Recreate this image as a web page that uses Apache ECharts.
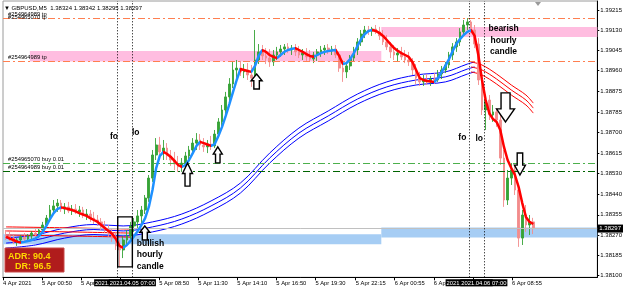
<!DOCTYPE html>
<html><head><meta charset="utf-8">
<script src="https://cdn.jsdelivr.net/npm/echarts@6/dist/echarts.min.js"></script>
<style>html,body{margin:0;padding:0;background:#fff}#c{width:625px;height:289px}</style>
</head><body><div id="c"></div>
<script>
// ---------- DATA ----------
const barStart = '4 22:15';   // day-of-April and time of the first 15-minute bar
const barMinutes = 15;
const opens = [
1.38270,1.38266,1.38257,1.38241,1.38249,1.38262,1.38253,1.38266,1.38278,1.38270,
1.38291,1.38312,1.38341,1.38375,1.38392,1.38404,1.38379,1.38388,1.38371,1.38379,
1.38367,1.38375,1.38354,1.38358,1.38341,1.38333,1.38325,1.38304,1.38291,1.38278,
1.38257,1.38224,1.38207,1.38249,1.38266,1.38308,1.38325,1.38350,1.38375,1.38425,
1.38509,1.38606,1.38648,1.38619,1.38635,1.38602,1.38585,1.38568,1.38556,1.38572,
1.38602,1.38627,1.38656,1.38669,1.38648,1.38640,1.38652,1.38644,1.38694,1.38745,
1.38795,1.38850,1.38904,1.38963,1.38971,1.38955,1.38963,1.38942,1.38929,1.39005,
1.39039,1.39022,1.39013,1.38997,1.39026,1.39039,1.39051,1.39060,1.39047,1.39055,
1.39039,1.39026,1.39034,1.39018,1.39009,1.39026,1.39039,1.39047,1.39055,1.39043,
1.39051,1.39026,1.38971,1.38955,1.38980,1.39013,1.39047,1.39081,1.39114,1.39131,
1.39127,1.39135,1.39123,1.39106,1.39081,1.39060,1.39039,1.39026,1.39034,1.39018,
1.39005,1.38997,1.38963,1.38929,1.38913,1.38921,1.38913,1.38925,1.38921,1.38946,
1.38963,1.38984,1.39026,1.39060,1.39081,1.39123,1.39152,1.39165,1.39131,1.39072,
1.38921,1.38795,1.38837,1.38774,1.38787,1.38753,1.38593,1.38417,1.38509,1.38543,
1.38459,1.38257,1.38354,1.38312,1.38325];
const closes = [
1.38266,1.38257,1.38241,1.38249,1.38262,1.38253,1.38266,1.38278,1.38270,1.38291,
1.38312,1.38341,1.38375,1.38392,1.38404,1.38379,1.38388,1.38371,1.38379,1.38367,
1.38375,1.38354,1.38358,1.38341,1.38333,1.38325,1.38304,1.38291,1.38278,1.38257,
1.38224,1.38207,1.38249,1.38266,1.38308,1.38325,1.38350,1.38375,1.38425,1.38509,
1.38606,1.38648,1.38619,1.38635,1.38602,1.38585,1.38568,1.38556,1.38572,1.38602,
1.38627,1.38656,1.38669,1.38648,1.38640,1.38652,1.38644,1.38694,1.38745,1.38795,
1.38850,1.38904,1.38963,1.38971,1.38955,1.38963,1.38942,1.38929,1.39005,1.39039,
1.39022,1.39013,1.38997,1.39026,1.39039,1.39051,1.39060,1.39047,1.39055,1.39039,
1.39026,1.39034,1.39018,1.39009,1.39026,1.39039,1.39047,1.39055,1.39043,1.39051,
1.39026,1.38971,1.38955,1.38980,1.39013,1.39047,1.39081,1.39114,1.39131,1.39127,
1.39135,1.39123,1.39106,1.39081,1.39060,1.39039,1.39026,1.39034,1.39018,1.39005,
1.38997,1.38963,1.38929,1.38913,1.38921,1.38913,1.38925,1.38921,1.38946,1.38963,
1.38984,1.39026,1.39060,1.39081,1.39123,1.39152,1.39165,1.39131,1.39072,1.38921,
1.38795,1.38837,1.38774,1.38787,1.38753,1.38593,1.38417,1.38509,1.38543,1.38459,
1.38257,1.38354,1.38312,1.38325,1.38297];
const highs = [
1.38291,1.38283,1.38270,1.38257,1.38270,1.38278,1.38274,1.38287,1.38295,1.38299,
1.38325,1.38354,1.38396,1.38417,1.38421,1.38417,1.38404,1.38409,1.38396,1.38400,
1.38392,1.38388,1.38379,1.38375,1.38367,1.38354,1.38341,1.38329,1.38312,1.38299,
1.38283,1.38249,1.38266,1.38291,1.38325,1.38341,1.38375,1.38392,1.38438,1.38522,
1.38627,1.38677,1.38682,1.38669,1.38656,1.38627,1.38619,1.38602,1.38593,1.38619,
1.38644,1.38677,1.38698,1.38694,1.38677,1.38669,1.38686,1.38711,1.38761,1.38816,
1.38871,1.38929,1.38997,1.39005,1.39001,1.38988,1.38992,1.38984,1.39131,1.39072,
1.39068,1.39055,1.39051,1.39047,1.39060,1.39068,1.39072,1.39076,1.39068,1.39072,
1.39064,1.39051,1.39055,1.39047,1.39039,1.39051,1.39064,1.39068,1.39072,1.39064,
1.39068,1.39039,1.39005,1.38997,1.39026,1.39060,1.39097,1.39131,1.39148,1.39148,
1.39144,1.39152,1.39144,1.39131,1.39110,1.39081,1.39068,1.39055,1.39060,1.39047,
1.39039,1.39013,1.38988,1.38955,1.38942,1.38946,1.38938,1.38950,1.38963,1.38980,
1.38997,1.39039,1.39076,1.39097,1.39139,1.39173,1.39181,1.39173,1.39152,1.39097,
1.38942,1.38858,1.38858,1.38816,1.38803,1.38774,1.38627,1.38543,1.38572,1.38564,
1.38480,1.38375,1.38396,1.38354,1.38342];
const lows = [
1.38249,1.38245,1.38232,1.38224,1.38236,1.38245,1.38241,1.38253,1.38262,1.38257,
1.38278,1.38299,1.38325,1.38358,1.38367,1.38367,1.38358,1.38362,1.38354,1.38358,
1.38346,1.38341,1.38333,1.38325,1.38316,1.38308,1.38291,1.38278,1.38262,1.38241,
1.38207,1.38136,1.38173,1.38224,1.38249,1.38283,1.38299,1.38316,1.38358,1.38409,
1.38493,1.38585,1.38593,1.38585,1.38585,1.38560,1.38543,1.38535,1.38535,1.38551,
1.38577,1.38606,1.38627,1.38627,1.38619,1.38614,1.38627,1.38635,1.38677,1.38728,
1.38774,1.38829,1.38887,1.38929,1.38938,1.38929,1.38921,1.38892,1.38904,1.38988,
1.39005,1.38988,1.38976,1.38980,1.39005,1.39018,1.39026,1.39034,1.39026,1.39022,
1.39013,1.39005,1.39001,1.38997,1.38992,1.39001,1.39018,1.39026,1.39030,1.39026,
1.39013,1.38955,1.38913,1.38929,1.38963,1.38997,1.39026,1.39064,1.39097,1.39110,
1.39106,1.39114,1.39089,1.39068,1.39047,1.39013,1.39005,1.38997,1.39005,1.38992,
1.38980,1.38942,1.38904,1.38896,1.38896,1.38900,1.38896,1.38904,1.38913,1.38925,
1.38950,1.38971,1.39005,1.39039,1.39064,1.39106,1.39131,1.39118,1.39055,1.38900,
1.38774,1.38711,1.38753,1.38745,1.38724,1.38564,1.38388,1.38396,1.38480,1.38438,
1.38220,1.38228,1.38283,1.38270,1.38274];
// fast moving average (blue while rising, red while falling)
const ma = [
1.38263,1.38255,1.38249,1.38242,1.38238,1.38241,1.38245,1.38249,1.38255,1.38266,
1.38283,1.38308,1.38337,1.38362,1.38379,1.38386,1.38383,1.38379,1.38375,1.38369,
1.38362,1.38356,1.38350,1.38341,1.38333,1.38325,1.38312,1.38299,1.38287,1.38274,
1.38253,1.38224,1.38216,1.38228,1.38245,1.38266,1.38287,1.38312,1.38341,1.38388,
1.38459,1.38551,1.38602,1.38619,1.38610,1.38598,1.38581,1.38564,1.38556,1.38564,
1.38585,1.38614,1.38644,1.38661,1.38656,1.38650,1.38644,1.38652,1.38686,1.38724,
1.38770,1.38820,1.38871,1.38921,1.38967,1.38963,1.38959,1.38955,1.38980,1.39022,
1.39047,1.39039,1.39026,1.39018,1.39013,1.39026,1.39039,1.39047,1.39051,1.39055,
1.39047,1.39039,1.39030,1.39022,1.39018,1.39026,1.39034,1.39039,1.39043,1.39045,
1.39047,1.39022,1.38988,1.38992,1.39009,1.39034,1.39064,1.39093,1.39114,1.39127,
1.39131,1.39127,1.39118,1.39106,1.39089,1.39072,1.39055,1.39043,1.39034,1.39026,
1.39018,1.38997,1.38963,1.38929,1.38921,1.38917,1.38915,1.38913,1.38929,1.38955,
1.38980,1.39009,1.39043,1.39072,1.39093,1.39110,1.39123,1.39131,1.39106,1.39026,
1.38921,1.38837,1.38782,1.38757,1.38745,1.38711,1.38640,1.38585,1.38551,1.38522,
1.38472,1.38404,1.38346,1.38325,1.38316];
// slow envelope bands, sampled at bar indices
const blueBandBars = [0,8,16,24,32,40,48,56,64,72,80,88,96,104,112,120,126,128];
const blueUpper = [1.38257,1.38270,1.38299,1.38314,1.38308,1.38325,1.38358,1.38413,1.38488,1.38614,1.38719,1.38791,1.38862,1.38913,1.38942,1.38955,1.38988,1.38997];
const blueMid   = [1.38236,1.38249,1.38278,1.38293,1.38287,1.38304,1.38337,1.38392,1.38467,1.38593,1.38698,1.38770,1.38841,1.38892,1.38921,1.38934,1.38967,1.38976];
const blueLower = [1.38215,1.38228,1.38257,1.38272,1.38266,1.38283,1.38316,1.38371,1.38446,1.38572,1.38677,1.38749,1.38820,1.38871,1.38900,1.38913,1.38946,1.38955];
const redBandBars = [127,130,134,138,142,144];
const redUpper = [1.38997,1.38984,1.38946,1.38900,1.38858,1.38824];
const redMid   = [1.38976,1.38963,1.38925,1.38879,1.38837,1.38803];
const redLower = [1.38955,1.38942,1.38904,1.38858,1.38816,1.38782];
const redLeftBars = [0,17,34];
const redLeftUpper = [1.38304,1.38300,1.38295];
const redLeftMid   = [1.38287,1.38283,1.38278];
const redLeftLower = [1.38270,1.38266,1.38261];
// axis ticks
const xTickTimes  = ['4 22:10','5 00:50','5 03:30','5 06:10','5 08:50','5 11:30','5 14:10','5 16:50','5 19:30','5 22:15','6 00:55','6 03:35','6 06:15','6 08:55'];
const xTickLabels = ['4 Apr 2021','5 Apr 00:50','5 Apr 03:30','5 Apr 06:10','5 Apr 08:50','5 Apr 11:30','5 Apr 14:10','5 Apr 16:50','5 Apr 19:30','5 Apr 22:15','6 Apr 00:55','6 Apr 03:35','6 Apr 06:15','6 Apr 08:55'];
const yTicks = [1.38100,1.38185,1.38270,1.38355,1.38440,1.38530,1.38615,1.38700,1.38785,1.38875,1.38960,1.39045,1.39130,1.39215];
// horizontal order / price lines
const priceLines = [
  {name:'#254965070 tp', value:1.39181, kind:'tp2'},
  {name:'#254964989 tp', value:1.39181, kind:'tp'},
  {name:'#254964989 tp', value:1.38999, kind:'tp'},
  {name:'#254965070 buy 0.01', value:1.38572, kind:'buy1'},
  {name:'#254964989 buy 0.01', value:1.38537, kind:'buy2'}
];
const bidPrice = 1.38297;
// vertical session lines
const vLineTimes  = ['5 06:00','5 07:00','6 06:00','6 07:00'];
const vLineLabels = ['2021.04.05 06:00','2021.04.05 07:00','2021.04.06 06:00','2021.04.06 07:00'];
// zones: [from, to, top, bottom]  (null = chart edge)
const pinkZones = [['6 00:00', null, 1.39144, 1.39102], ['5 00:00','6 00:00', 1.39043, 1.38999]];
const blueZones = [[null,'6 00:00', 1.38273, 1.38231], ['6 00:00', null, 1.38301, 1.38259]];
// annotations (time, price)
const upArrows   = [['5 07:51',1.38308,10,14],['5 10:46',1.38572,10,23],['5 12:50',1.38640,9,16],['5 15:29',1.38946,11,15]];
const downArrows = [['6 08:29',1.38745,18,29],['6 09:28',1.38522,11,22]];
const notes = [
  ['5 05:45',1.38682,'fo','center'],['5 07:14',1.38700,'lo','center'],
  ['6 05:32',1.38677,'fo','center'],['6 06:41',1.38673,'lo','center'],
  ['6 08:21',1.39087,'bearish\nhourly\ncandle','center'],
  ['5 07:18',1.38186,'bullish\nhourly\ncandle','left']
];
const hourlyBox = ['5 06:00','5 07:00',1.38346,1.38136];

// ---------- HELPERS ----------
function toMin(s){ const [d,hm]=s.split(' '); const [h,m]=hm.split(':').map(Number); return (Number(d)-4)*1440+h*60+m; }
const t0 = toMin(barStart);
const barTime = k => t0 + barMinutes*k + barMinutes/2;
const xMin = toMin('4 22:10'), xMax = 3765;
const yMin = 1.380923, yMax = 1.392528;
const xTickValues = xTickTimes.map(toMin);

const candleData = closes.map((c,k)=>[barTime(k), opens[k], c, lows[k], highs[k]]);
const maData = ma.map((v,k)=>[barTime(k), v]);
const BLUE='#1e90ff', RED='#ff0000';
const pieces = [];
for (let k=0;k<ma.length-1;k++){
  const col = ma[k+1] >= ma[k] ? BLUE : RED;
  const a = barTime(k), b = barTime(k+1);
  if (pieces.length && pieces[pieces.length-1].color===col) pieces[pieces.length-1].lte = b;
  else pieces.push(pieces.length ? {gt:a, lte:b, color:col} : {gte:xMin, lte:b, color:col});
}
pieces[pieces.length-1].lte = xMax;

function bandSeries(bars, vals, color){
  return {type:'line', data: bars.map((k,i)=>[barTime(k), vals[i]]), smooth:0.35, symbol:'none',
    lineStyle:{color, width:1}, z:2, silent:true};
}
const lineColors = {tp:'#ff7f50', tp2:'#ff7f50', buy1:'#4cb04c', buy2:'#006400'};
const hLines = priceLines.map(p=>[
  {coord:[xMin, p.value], name:p.name, lineStyle:{color:lineColors[p.kind], type:[7,3,2,3], width:1},
   label:{show:true, position:'insideStartTop', formatter:p.name, distance: p.kind==='tp2'?[5,-2]:[5,1], fontSize:5.8, color:'#000', fontFamily:'Liberation Sans'}},
  {coord:[xMax, p.value]}]);
hLines.push([
  {coord:[xMin, bidPrice], lineStyle:{color:'#c0c0c0', type:'solid', width:1},
   label:{show:true, position:'end', formatter:bidPrice.toFixed(5), backgroundColor:'#000', color:'#fff', padding:[1,2,1,2], fontSize:6, distance:0, fontFamily:'Liberation Sans'}},
  {coord:[xMax, bidPrice]}]);
const vLines = vLineTimes.map((t,i)=>[
  {coord:[toMin(t), yMin], lineStyle:{color:'#000', type:[1,2], width:1},
   label:{show:true, position:'start', formatter:vLineLabels[i], backgroundColor:'#000', color:'#fff', padding:[1,1,0,1], fontSize:5.8, distance:2, fontFamily:'Liberation Sans'}},
  {coord:[toMin(t), yMax]}]);
const zoneData = [];
pinkZones.forEach(z=>zoneData.push([{xAxis: z[0]?toMin(z[0]):xMin, yAxis:z[2], itemStyle:{color:'#ffbde0'}},{xAxis: z[1]?toMin(z[1]):xMax, yAxis:z[3]}]));
blueZones.forEach(z=>zoneData.push([{xAxis: z[0]?toMin(z[0]):xMin, yAxis:z[2], itemStyle:{color:'#a6cdf4'}},{xAxis: z[1]?toMin(z[1]):xMax, yAxis:z[3]}]));

const chart = echarts.init(document.getElementById('c'));
const option = {
  animation:false,
  backgroundColor:'#fff',
  textStyle:{fontFamily:'Liberation Sans'},
  grid:{left:1.3, top:1, right:25.7, bottom:11.7, show:true, borderColor:'#9a9a9a', borderWidth:1},
  xAxis:{type:'value', min:xMin, max:xMax,
    axisLine:{show:true, onZero:false, lineStyle:{color:'#000', width:1}},
    axisTick:{show:true, customValues:xTickValues, length:3, lineStyle:{color:'#000'}},
    axisLabel:{customValues:xTickValues, formatter:v=>xTickLabels[xTickValues.indexOf(v)], fontSize:5.8, color:'#000', align:'left', margin:3, fontFamily:'Liberation Sans'},
    splitLine:{show:false}},
  yAxis:{type:'value', position:'right', min:yMin, max:yMax,
    axisLine:{show:true, lineStyle:{color:'#000', width:1}},
    axisTick:{show:true, customValues:yTicks, length:2, lineStyle:{color:'#000'}},
    axisLabel:{customValues:yTicks, formatter:v=>v.toFixed(5), fontSize:6, color:'#000', margin:3, fontFamily:'Liberation Sans'},
    splitLine:{show:false}},
  visualMap:[{type:'piecewise', show:false, seriesIndex:12, dimension:0, pieces, outOfRange:{color:RED}}],
  series:[
    {type:'line', data:[], z:1, silent:true,
      markArea:{silent:true, data:zoneData}},
    bandSeries(blueBandBars, blueUpper, '#0000ff'),
    bandSeries(blueBandBars, blueMid, '#0000ff'),
    bandSeries(blueBandBars, blueLower, '#0000ff'),
    bandSeries(redBandBars, redUpper, '#ff0000'),
    bandSeries(redBandBars, redMid, '#ff0000'),
    bandSeries(redBandBars, redLower, '#ff0000'),
    bandSeries(redLeftBars, redLeftUpper, '#ff0000'),
    bandSeries(redLeftBars, redLeftMid, '#ff0000'),
    bandSeries(redLeftBars, redLeftLower, '#ff0000'),
    {type:'line', data:[], z:3, silent:true},
    {type:'candlestick', data:candleData, encode:{x:0, y:[1,2,3,4]}, barWidth:2.2, z:4, silent:true,
      itemStyle:{color:'#36a336', color0:'#f28c8c', borderColor:'#36a336', borderColor0:'#f28c8c', borderWidth:0.9},
      markLine:{silent:true, symbol:['none','none'], precision:5, data:hLines.concat(vLines)}},
    {type:'line', data:maData, symbol:'none', z:5, silent:true, lineStyle:{width:2.5}}
  ]
};
chart.setOption(option);

// ---------- ANNOTATIONS ----------
const P = (t,p)=>chart.convertToPixel({gridIndex:0},[toMin(t),p]);
function arrowPts(x,y,w,h,s){ const hh=h*0.45, sw=w*0.5;
  return [[x,y],[x+w/2,y+s*hh],[x+sw/2,y+s*hh],[x+sw/2,y+s*h],[x-sw/2,y+s*h],[x-sw/2,y+s*hh],[x-w/2,y+s*hh]]; }
const g = [];
upArrows.forEach(a=>{ const [x,y]=P(a[0],a[1]); g.push({type:'polygon', z:100, shape:{points:arrowPts(x,y,a[2],a[3],1)}, style:{fill:'#fff', stroke:'#000', lineWidth:1.4}}); });
downArrows.forEach(a=>{ const [x,y]=P(a[0],a[1]); g.push({type:'polygon', z:100, shape:{points:arrowPts(x,y,a[2],a[3],-1)}, style:{fill:'#fff', stroke:'#000', lineWidth:1.4}}); });
notes.forEach(n=>{ const [x,y]=P(n[0],n[1]); g.push({type:'text', z:101, x, y, style:{text:n[2], font:'bold 8.5px "Liberation Sans"', fill:'#000', align:n[3], verticalAlign:'middle', lineHeight:11.5}}); });
{ const [x1,y1]=P(hourlyBox[0],hourlyBox[2]); const [x2,y2]=P(hourlyBox[1],hourlyBox[3]);
  g.push({type:'rect', z:100, shape:{x:x1,y:y1,width:x2-x1,height:y2-y1}, style:{fill:'none', stroke:'#000', lineWidth:1.4}}); }
g.push({type:'text', z:101, x:4, y:8, style:{text:'\u25BC GBPUSD,M5  1.38324 1.38342 1.38295 1.38297', font:'6px "Liberation Sans"', fill:'#000', verticalAlign:'middle'}});
g.push({type:'polygon', z:101, shape:{points:[[535,2],[541,2],[538,6]]}, style:{fill:'#9a9a9a'}});
g.push({type:'rect', z:102, shape:{x:5,y:248,width:59,height:24}, style:{fill:'#b01c1c', stroke:'#c84848', lineWidth:1}});
g.push({type:'text', z:103, x:8, y:256.5, style:{text:'ADR: 90.4', font:'bold 9px "Liberation Sans"', fill:'#ffd700', verticalAlign:'middle'}});
g.push({type:'text', z:103, x:15, y:267, style:{text:'DR: 96.5', font:'bold 9px "Liberation Sans"', fill:'#ffd700', verticalAlign:'middle'}});
chart.setOption({graphic:g});
</script></body></html>
